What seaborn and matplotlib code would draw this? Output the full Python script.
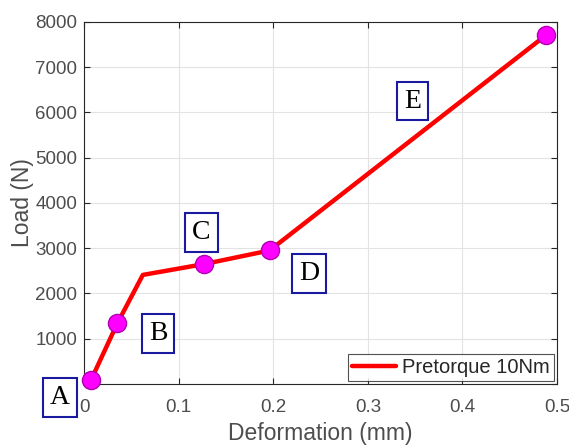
import matplotlib
matplotlib.use("Agg")
import matplotlib.pyplot as plt
import pandas as pd
import seaborn as sns

# Curve points (mm, N)
DEFORMATION = [0.007, 0.035, 0.062, 0.127, 0.196, 0.488]
LOAD = [80, 1340, 2410, 2650, 2950, 7700]

# Points marked with a circle (the knee at 0.062 has none)
MARK_X = [0.007, 0.035, 0.127, 0.196, 0.488]
MARK_Y = [80, 1340, 2650, 2950, 7700]

# Stage labels and where their boxes sit
STAGE_NAMES = ["A", "B", "C", "D", "E"]
STAGE_X = [-0.026, 0.078, 0.124, 0.238, 0.347]
STAGE_Y = [-290, 1120, 3350, 2450, 6250]

X_TICKS = [0, 0.1, 0.2, 0.3, 0.4, 0.5]
Y_TICKS = [0, 1000, 2000, 3000, 4000, 5000, 6000, 7000, 8000]
Y_TICK_LABELS = ["", "1000", "2000", "3000", "4000", "5000", "6000", "7000", "8000"]

sns.set_theme(style="white")
plt.rcParams["font.family"] = ["Liberation Sans", "DejaVu Sans"]

df = pd.DataFrame({"Deformation (mm)": DEFORMATION, "Load (N)": LOAD})
marks = pd.DataFrame({"x": MARK_X, "y": MARK_Y})

fig = plt.figure(figsize=(5.69, 4.45), dpi=100)
ax = fig.add_axes([0.148, 0.137, 0.831, 0.814])

sns.lineplot(data=df, x="Deformation (mm)", y="Load (N)", color="#ff0000",
             linewidth=3.2, label="Pretorque 10Nm", ax=ax, zorder=3)
sns.scatterplot(data=marks, x="x", y="y", s=170, color="#ff00ff",
                edgecolor="#b000b0", linewidth=1, ax=ax, zorder=4,
                legend=False, clip_on=False)

for name, x, y in zip(STAGE_NAMES, STAGE_X, STAGE_Y):
    ax.text(x, y, name, family="Liberation Serif", fontsize=20, color="black",
            ha="center", va="center", zorder=6, clip_on=False,
            bbox=dict(boxstyle="square,pad=0.25", facecolor="white",
                      edgecolor="#1a1aa0", linewidth=1.5))

ax.set_xlim(0, 0.5)
ax.set_ylim(0, 8000)
ax.set_xticks(X_TICKS)
ax.set_xticklabels([f"{t:g}" for t in X_TICKS])
ax.set_yticks(Y_TICKS)
ax.set_yticklabels(Y_TICK_LABELS)
ax.grid(True, color="#e3e3e3", linewidth=0.8)
ax.set_axisbelow(True)

gray = "#4d4d4d"
for side in ax.spines.values():
    side.set_color("#262626")
    side.set_linewidth(0.8)
ax.tick_params(direction="in", length=4, width=0.8, colors="#262626",
               labelcolor=gray, labelsize=13.5, top=True, right=True,
               bottom=True, left=True, pad=5)
ax.tick_params(axis="x", pad=11)
ax.set_xlabel("Deformation (mm)", fontsize=16.5, color=gray, labelpad=4)
ax.set_ylabel("Load (N)", fontsize=16.5, color=gray, labelpad=1)

leg = ax.legend(loc="lower right", fontsize=14.5, frameon=True, fancybox=False,
                handlelength=2.2, handletextpad=0.3, borderpad=0.2,
                borderaxespad=0.15)
leg.get_frame().set_edgecolor("#262626")
leg.get_frame().set_linewidth(0.8)
for t in leg.get_texts():
    t.set_color("#262626")

fig.savefig("out.png", dpi=100)
